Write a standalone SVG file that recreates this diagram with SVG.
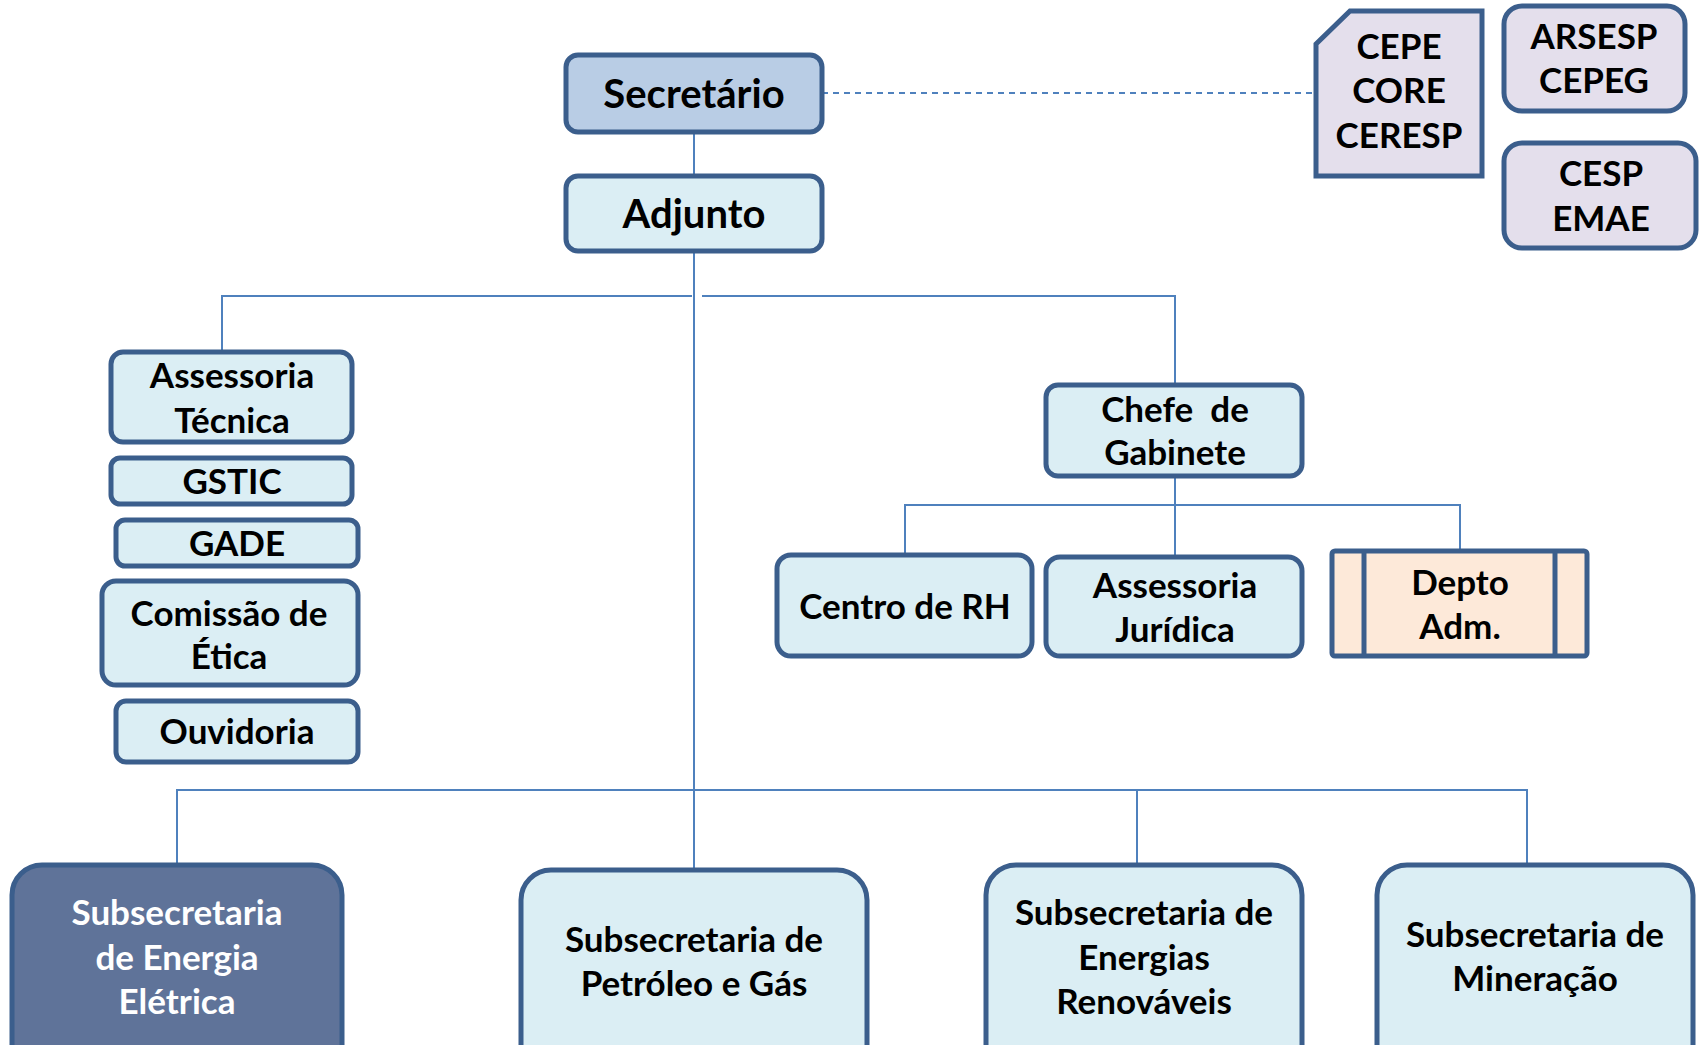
<svg xmlns="http://www.w3.org/2000/svg" width="1699" height="1045" viewBox="0 0 1699 1045">
<style>
.box{stroke:#3b5e8c;stroke-width:5}
.lt{fill:#dbeef4}
.lav{fill:#e4dfec}
.t{font-family:Lato,"Liberation Sans",sans-serif;font-weight:bold;font-size:35px;fill:#000;text-anchor:middle}
.big{font-size:40px}
.w{fill:#fff}
.ln{stroke:#4f81bd;stroke-width:2;fill:none}
</style>
<rect width="1699" height="1045" fill="#fff"/>
<g id="connectors">
<line class="ln" x1="822" y1="93" x2="1316" y2="93" stroke-dasharray="6,5"/>
<line class="ln" x1="694" y1="132" x2="694" y2="176"/>
<line class="ln" x1="694" y1="251" x2="694" y2="870"/>
<polyline class="ln" points="222,352 222,296 692,296"/>
<polyline class="ln" points="702,296 1175,296 1175,385"/>
<line class="ln" x1="1175" y1="476" x2="1175" y2="557"/>
<polyline class="ln" points="905,555 905,505 1460,505 1460,549"/>
<polyline class="ln" points="177,865 177,790 1527,790 1527,865"/>
<line class="ln" x1="1137" y1="790" x2="1137" y2="865"/>
</g>
<g id="secretario">
<rect class="box" x="566" y="55" width="256" height="77" rx="12" fill="#b9cde5"/>
<text class="t big" x="694" y="108">Secretário</text>
</g>
<g id="adjunto">
<rect class="box lt" x="566" y="176" width="256" height="75" rx="12"/>
<text class="t big" x="694" y="228">Adjunto</text>
</g>
<g id="cepe">
<path class="box lav" d="M1316,44 L1350,11 L1482,11 L1482,176 L1316,176 Z"/>
<text class="t" x="1399" y="59">CEPE</text>
<text class="t" x="1399" y="103">CORE</text>
<text class="t" x="1399" y="148">CERESP</text>
</g>
<g id="arsesp">
<rect class="box lav" x="1504" y="6" width="181" height="105" rx="18"/>
<text class="t" x="1594" y="49">ARSESP</text>
<text class="t" x="1594" y="93">CEPEG</text>
</g>
<g id="cesp">
<rect class="box lav" x="1504" y="143" width="192" height="105" rx="18"/>
<text class="t" x="1601" y="186">CESP</text>
<text class="t" x="1601" y="231">EMAE</text>
</g>
<g id="assessoria-tecnica">
<rect class="box lt" x="111" y="352" width="241" height="90" rx="12"/>
<text class="t" x="232" y="388">Assessoria</text>
<text class="t" x="232" y="433">Técnica</text>
</g>
<g id="gstic">
<rect class="box lt" x="111" y="458" width="241" height="46" rx="9"/>
<text class="t" x="232" y="494">GSTIC</text>
</g>
<g id="gade">
<rect class="box lt" x="116" y="520" width="242" height="46" rx="9"/>
<text class="t" x="237" y="556">GADE</text>
</g>
<g id="comissao-etica">
<rect class="box lt" x="102" y="581" width="256" height="104" rx="14"/>
<text class="t" x="229" y="626">Comissão de</text>
<text class="t" x="229" y="669">Ética</text>
</g>
<g id="ouvidoria">
<rect class="box lt" x="116" y="701" width="242" height="61" rx="10"/>
<text class="t" x="237" y="744">Ouvidoria</text>
</g>
<g id="chefe-gabinete">
<rect class="box lt" x="1046" y="385" width="256" height="91" rx="12"/>
<text class="t" x="1175" y="422" style="white-space:pre">Chefe  de</text>
<text class="t" x="1175" y="465">Gabinete</text>
</g>
<g id="centro-rh">
<rect class="box lt" x="777" y="555" width="255" height="101" rx="14"/>
<text class="t" x="905" y="619">Centro de RH</text>
</g>
<g id="assessoria-juridica">
<rect class="box lt" x="1046" y="557" width="256" height="99" rx="14"/>
<text class="t" x="1175" y="598">Assessoria</text>
<text class="t" x="1175" y="642">Jurídica</text>
</g>
<g id="depto-adm">
<rect class="box" x="1332" y="551" width="255" height="105" rx="3" fill="#fde9d9"/>
<line class="box" x1="1364" y1="551" x2="1364" y2="656"/>
<line class="box" x1="1555" y1="551" x2="1555" y2="656"/>
<text class="t" x="1460" y="595">Depto</text>
<text class="t" x="1460" y="639">Adm.</text>
</g>
<g id="sub-energia-eletrica">
<rect class="box" x="12" y="865" width="330" height="220" rx="30" fill="#5f7399"/>
<text class="t w" x="177" y="925">Subsecretaria</text>
<text class="t w" x="177" y="970">de Energia</text>
<text class="t w" x="177" y="1014">Elétrica</text>
</g>
<g id="sub-petroleo-gas">
<rect class="box lt" x="521" y="870" width="346" height="215" rx="30"/>
<text class="t" x="694" y="952">Subsecretaria de</text>
<text class="t" x="694" y="996">Petróleo e Gás</text>
</g>
<g id="sub-energias-renovaveis">
<rect class="box lt" x="986" y="865" width="316" height="220" rx="30"/>
<text class="t" x="1144" y="925">Subsecretaria de</text>
<text class="t" x="1144" y="970">Energias</text>
<text class="t" x="1144" y="1014">Renováveis</text>
</g>
<g id="sub-mineracao">
<rect class="box lt" x="1377" y="865" width="316" height="220" rx="30"/>
<text class="t" x="1535" y="947">Subsecretaria de</text>
<text class="t" x="1535" y="991">Mineração</text>
</g>
</svg>
